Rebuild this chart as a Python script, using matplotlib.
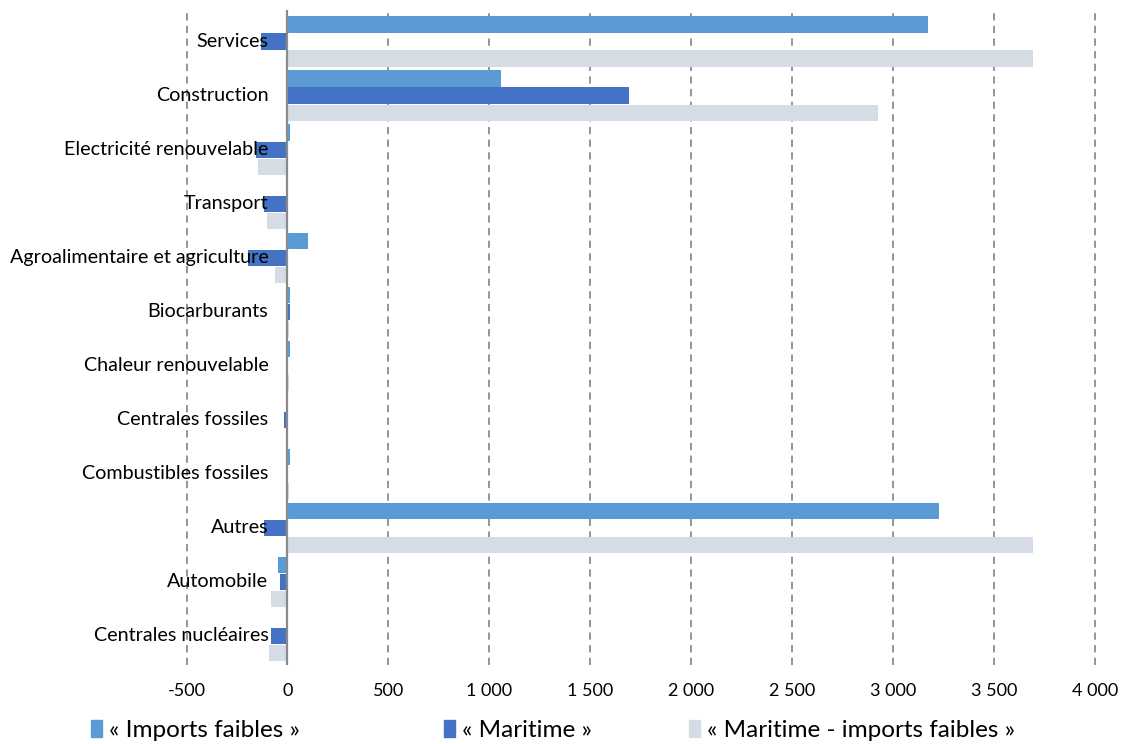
import numpy as np
import matplotlib.pyplot as plt
from matplotlib.transforms import offset_copy
from matplotlib.patches import Patch

plt.rcParams['font.family'] = ['Lato', 'DejaVu Sans']

categories = ["Services", "Construction", "Electricité renouvelable", "Transport",
              "Agroalimentaire et agriculture", "Biocarburants", "Chaleur renouvelable",
              "Centrales fossiles", "Combustibles fossiles", "Autres", "Automobile",
              "Centrales nucléaires"]
series_names = ["« Imports faibles »", "« Maritime »", "« Maritime - imports faibles »"]
imports_faibles = [3176, 1057, 12, -5, 100, 10, 10, -3, 10, 3226, -45, -5]
maritime = [-130, 1692, -155, -114, -194, 10, -3, -15, -3, -114, -35, -84]
maritime_imports_faibles = [3692, 2928, -145, -104, -64, 5, 5, -8, 5, 3692, -84, -94]
xticks = [-500, 0, 500, 1000, 1500, 2000, 2500, 3000, 3500, 4000]

colors = ["#5B9BD5", "#4472C4", "#D6DCE5"]

fig = plt.figure(figsize=(11.24, 7.44), dpi=100)
ax = fig.add_axes([0.166, 0.106, 0.808, 0.881])

y = np.arange(len(categories))
h = 0.3
offsets = [-0.315, 0, 0.315]
for vals, off, c, name in zip([imports_faibles, maritime, maritime_imports_faibles],
                              offsets, colors, series_names):
    ax.barh(y + off, vals, height=h, color=c, label=name, zorder=2)

ax.set_xlim(-500, 4000)
ax.set_ylim(len(categories) - 1 + 0.54, -0.59)
ax.set_xticks(xticks)
ax.set_xticklabels([f"{v:,}".replace(",", " ") for v in xticks], fontsize=13)
ax.tick_params(axis='x', length=0, pad=13)
ax.set_yticks([])
for s in ax.spines.values():
    s.set_visible(False)
ax.grid(axis='x', color='#8c8c8c', linestyle=(0, (4, 3)), linewidth=1.3, zorder=0)
for gl in ax.get_xgridlines():
    gl.set_clip_on(False)
ax.axvline(0, color='#8a8a8a', linewidth=1.6, zorder=3)

# category names sit against the zero axis, not the left edge
trans = offset_copy(ax.transData, fig=fig, x=-19, y=0, units='dots')
for yi, name in zip(y, categories):
    ax.text(0, yi, name, transform=trans, ha='right', va='center', fontsize=14.2,
            color='#000000', zorder=4)

# one legend entry per slot, spread along the bottom
legend_x = [0.081, 0.395, 0.613]
for x0, c, name in zip(legend_x, colors, series_names):
    fig.legend(handles=[Patch(color=c, label=name)], loc='center left',
               bbox_to_anchor=(x0, 0.0175), frameon=False, fontsize=17.5,
               handlelength=0.45, handleheight=0.7, handletextpad=0.3,
               borderpad=0, borderaxespad=0)

fig.savefig("out.png", dpi=100)
